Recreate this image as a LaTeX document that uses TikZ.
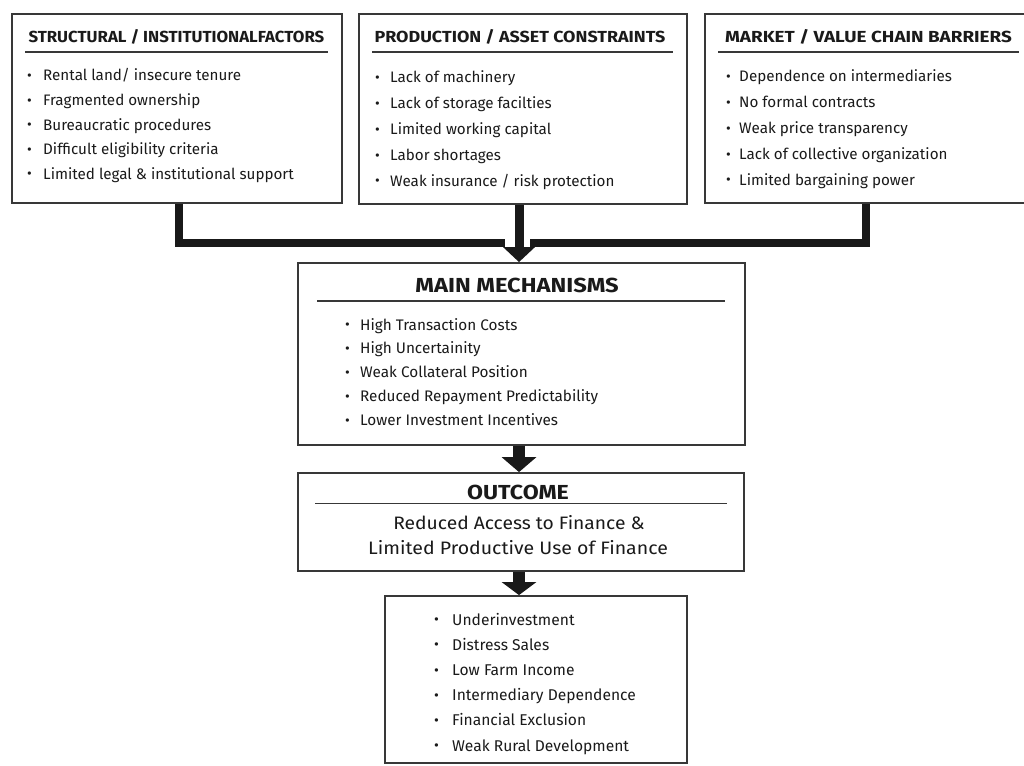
\documentclass[tikz,border=0pt]{standalone}
\usepackage{fontspec}
\setmainfont{Fira Sans}
\usetikzlibrary{arrows.meta}
\definecolor{ink}{HTML}{1A1A1A}
\definecolor{frame}{HTML}{383838}
\newcommand\itm[2]{\makebox[#1][l]{\raisebox{0.3pt}{\scalebox{0.95}{\textbullet}}}#2}
\newcommand\stretchx[2]{\scalebox{#1}[1]{#2}}
\tikzset{
  box/.style={draw=frame, line width=1.8pt, fill=white, inner sep=0pt},
  ttl/.style={text=ink, inner sep=0pt, anchor=base, font=\bfseries\fontsize{16}{17}\selectfont},
  bigttl/.style={ttl, font=\bfseries\fontsize{20.3}{21}\selectfont},
  item/.style={text=ink, inner sep=0pt, anchor=base west},
  rule/.style={draw=frame, line width=1.5pt},
  conn/.style={draw=black!90, line width=8pt, line cap=butt, line join=miter},
}
\begin{document}
\begin{tikzpicture}[x=1pt,y=-1pt]
\clip (0,0) rectangle (1024,765);
\fill[white] (0,0) rectangle (1024,765);
% boxes
\node[box, minimum width=330pt, minimum height=189pt] (b1) at (177,108.5) {};
\node[box, minimum width=328pt, minimum height=190pt] (b2) at (523,109) {};
\node[box, minimum width=323pt, minimum height=189pt] (b3) at (866.5,108.5) {};
\node[box, minimum width=447pt, minimum height=182pt] (m) at (521.5,354) {};
\node[box, minimum width=446pt, minimum height=98pt] (o) at (521,522) {};
\node[box, minimum width=302pt, minimum height=167pt] (f) at (536,679.5) {};
% titles
\node[ttl] (t1) at (176.5,43) {\stretchx{1.05}{STRUCTURAL / INSTITUTIONALFACTORS}};
\node[ttl] (t2) at (520,43) {\stretchx{1.12}{PRODUCTION / ASSET CONSTRAINTS}};
\node[ttl] (t3) at (868.5,43) {\stretchx{1.18}{MARKET / VALUE CHAIN BARRIERS}};
\draw[rule] (25,52) -- (328,52);
\draw[rule] (372,52) -- (673,52);
\draw[rule] (718,52) -- (1019,52);
% lists top
\foreach \t [count=\i] in {Rental land/ insecure tenure, Fragmented ownership, Bureaucratic procedures, Difficult eligibility criteria, Limited legal \& institutional support}
  \node[item, font=\fontsize{15.2}{16}\selectfont] (l1-\i) at (27,81+24.5*\i-24.5) {\itm{16pt}{\t}};
\foreach \t [count=\i] in {Lack of machinery, Lack of storage facilties, Limited working capital, Labor shortages, Weak insurance / risk protection}
  \node[item, font=\fontsize{15.2}{16}\selectfont] (l2-\i) at (375,83+25.8*\i-25.8) {\itm{15pt}{\t}};
\foreach \t [count=\i] in {Dependence on intermediaries, No formal contracts, Weak price transparency, Lack of collective organization, Limited bargaining power}
  \node[item, font=\fontsize{15.2}{16}\selectfont] (l3-\i) at (726,82+25.8*\i-25.8) {\itm{13pt}{\t}};
% mechanisms
\node[bigttl] (tm) at (517,292) {\stretchx{1.17}{MAIN MECHANISMS}};
\draw[rule] (317,301) -- (725,301);
\foreach \t [count=\i] in {High Transaction Costs, High Uncertainity, Weak Collateral Position, Reduced Repayment Predictability, Lower Investment Incentives}
  \node[item, font=\fontsize{15.3}{16}\selectfont] (lm-\i) at (345,330+23.9*\i-23.9) {\itm{15pt}{\t}};
% outcome
\node[bigttl] (to) at (518,499) {\stretchx{1.14}{OUTCOME}};
\draw[rule] (315,503.5) -- (727,503.5);
\node[ttl, font=\fontsize{18}{19}\selectfont] (o1) at (519,529) {\stretchx{1.07}{Reduced Access to Finance \&}};
\node[ttl, font=\fontsize{18}{19}\selectfont] (o2) at (518,554) {\stretchx{1.085}{Limited Productive Use of Finance}};
% final
\foreach \t [count=\i] in {Underinvestment, Distress Sales, Low Farm Income, Intermediary Dependence, Financial Exclusion, Weak Rural Development}
  \node[item, font=\fontsize{15.6}{16}\selectfont] (lf-\i) at (434,625+25.2*\i-25.2) {\itm{18pt}{\t}};
% connectors
\coordinate (ax) at (519,0);
\coordinate (jl) at (505,242.5);
\coordinate (jr) at (530,242.5);
\draw[conn] ([xshift=2pt]b1.south) |- (jl);
\draw[conn] ([xshift=-1pt]b3.south) |- (jr);
\draw[conn, line width=9pt, -{Triangle[width=31pt,length=15pt]}] (b2.south -| ax) -- (m.north -| ax);
\draw[conn, line width=12pt, -{Triangle[width=34pt,length=15pt]}] (m.south -| ax) -- (o.north -| ax);
\draw[conn, line width=12pt, -{Triangle[width=34pt,length=13pt]}] (o.south -| ax) -- (f.north -| ax);
\end{tikzpicture}
\end{document}
